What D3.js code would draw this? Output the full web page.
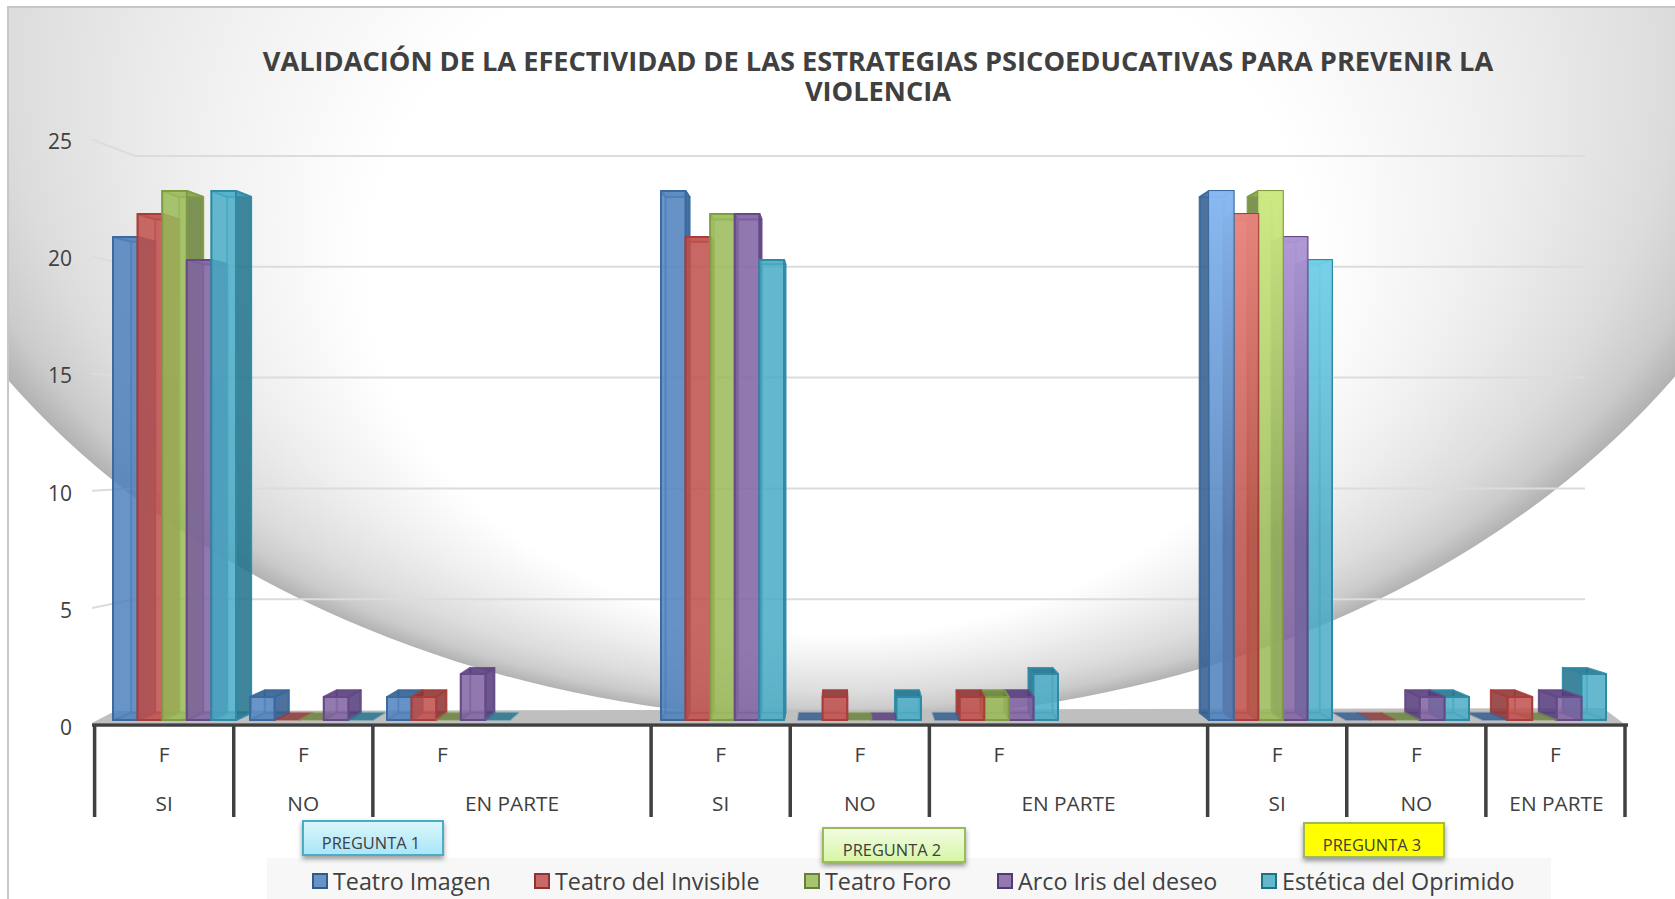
<!DOCTYPE html>
<html><head><meta charset="utf-8">
<script src="https://cdn.jsdelivr.net/npm/d3@7"></script>
<style>html,body{margin:0;padding:0;background:#fff;overflow:hidden}svg{display:block}text{font-family:"Open Sans",sans-serif;fill:#404040}</style>
</head><body><svg id="c" width="1675" height="899"></svg>
<script>
const titleLines = ["VALIDACIÓN DE LA EFECTIVIDAD DE LAS ESTRATEGIAS PSICOEDUCATIVAS PARA PREVENIR LA","VIOLENCIA"];
const slots = ["1-SI","1-NO","1-EP","1-x","2-SI","2-NO","2-EP","2-x","3-SI","3-NO","3-EP"];
const freqLabels = ["F","F","F","","F","F","F","","F","F","F"];
const answerLabels = ["SI","NO","EN PARTE","","SI","NO","EN PARTE","","SI","NO","EN PARTE"];
const seriesNames = ["Teatro Imagen","Teatro del Invisible","Teatro Foro","Arco Iris del deseo","Estética del Oprimido"];
const teatroImagen    = [21,1,1,null,23,0,0,null,23,0,0];
const teatroInvisible = [22,0,1,null,21,1,1,null,22,0,1];
const teatroForo      = [23,0,0,null,22,0,1,null,23,0,0];
const arcoIris        = [20,1,2,null,22,0,1,null,21,1,1];
const estetica        = [23,0,0,null,20,1,2,null,20,1,2];
const seriesValues = [teatroImagen,teatroInvisible,teatroForo,arcoIris,estetica];
const yTicks = [0,5,10,15,20,25];
const preguntas = ["PREGUNTA 1","PREGUNTA 2","PREGUNTA 3"];

const svg = d3.select("#c");
const defs = svg.append("defs");

// colours
const front = ["#4f81bd","#c0504d","#9bbb59","#8064a2","#4bacc6"];
const stroke = ["#3a6a9e","#a83e3b","#7f9c42","#654a86","#2f8aa6"];
const dark = ["#2f5a8c","#8a3533","#66803a","#52397a","#1f7089"];
const bright = ["#8fc0f8","#f09088","#d4f088","#bca4e4","#80dcf5"];

// background
const grad = defs.append("radialGradient").attr("id","bg").attr("gradientUnits","userSpaceOnUse")
  .attr("cx",0).attr("cy",0).attr("r",1).attr("fx",0).attr("fy",0.79)
  .attr("gradientTransform","translate(840,-50) scale(1003,770)");
[[0,"#ffffff"],[0.47,"#ffffff"],[0.66,"#eeeeee"],[0.83,"#dcdcdc"],[0.93,"#cbcbcb"],[1,"#b2b2b2"]]
  .forEach(([o,c])=>grad.append("stop").attr("offset",o).attr("stop-color",c));
defs.append("clipPath").attr("id","area").append("rect").attr("x",8).attr("y",7).attr("width",1667).attr("height",892);
svg.append("ellipse").attr("clip-path","url(#area)").attr("cx",840).attr("cy",-50).attr("rx",1003).attr("ry",770).attr("fill","url(#bg)");
svg.append("path").attr("d","M8,899V7H1675").attr("fill","none").attr("stroke","#c6c6c6").attr("stroke-width",2);

const f = defs.append("filter").attr("id","sh").attr("x","-10%").attr("y","-20%").attr("width","120%").attr("height","160%");
f.append("feDropShadow").attr("dx",0).attr("dy",3).attr("stdDeviation",2.5).attr("flood-color","#000").attr("flood-opacity",0.4);
const gp = [["g1","#dcf6fc","#a8e6f8"],["g2","#f3fce3","#d6f6a4"]];
gp.forEach(([id,a,b])=>{const g=defs.append("linearGradient").attr("id",id).attr("x1",0).attr("x2",0).attr("y1",0).attr("y2",1);
  g.append("stop").attr("offset",0).attr("stop-color",a);g.append("stop").attr("offset",1).attr("stop-color",b);});
bright.forEach((c,i)=>{
  const g=defs.append("linearGradient").attr("id","glare"+i).attr("gradientUnits","userSpaceOnUse").attr("x1",0).attr("x2",0).attr("y1",190).attr("y2",540);
  g.append("stop").attr("offset",0).attr("stop-color",c).attr("stop-opacity",0.85);
  g.append("stop").attr("offset",1).attr("stop-color",c).attr("stop-opacity",0);
});

// scales
const yFront = d3.scaleLinear().domain([0,25]).range([725,139.5]);
const yBack  = d3.scaleLinear().domain([0,25]).range([710,156]);
const yBar   = d3.scaleLinear().domain([0,25]).range([720,145]);
const xAxis  = d3.scaleBand().domain(slots).range([94.6,1625]);
const xSlot  = d3.scaleBand().domain(slots).range([113,1620]);
const xInner = d3.scaleBand().domain(seriesNames).range([0,123]);

// walls
const xL0=92, xL1=135, xR=1585;
svg.append("g").selectAll("path").data(yTicks.filter(t=>t>0)).join("path")
  .attr("d",t=>`M${xL0},${yFront(t)}L${xL1},${yBack(t)}H${xR}`)
  .attr("fill","none").attr("stroke","#dcdcdc").attr("stroke-width",2);
svg.append("path").attr("d","M92,723H1623L1603,708L115,711Z").attr("fill","#bfbfbf");

// bars
const V=[840,430], k=0.025;
const proj=([x,y])=>[x+k*(V[0]-x),y+k*(V[1]-y)];
const poly=pts=>"M"+pts.map(p=>p.join(",")).join("L")+"Z";
const bars=[];
seriesNames.forEach((n,si)=>slots.forEach((s,i)=>{
  const v=seriesValues[si][i]; if(v===null) return;
  const x0=xSlot(s)+xInner(n), x1=x0+xInner.bandwidth();
  bars.push({si,v,x0,x1,d:Math.abs((x0+x1)/2-V[0]),third:i===8});
}));
bars.sort((a,b)=>b.d-a.d);
const gb=svg.append("g");
bars.forEach(b=>{
  const yt=yBar(b.v), yb=yBar(0);
  const A=[b.x0,yt],B=[b.x1,yt],C=[b.x1,yb],D=[b.x0,yb];
  const a=proj(A),bb=proj(B),c=proj(C),d=proj(D);
  const g=gb.append("g").attr("stroke",stroke[b.si]).attr("stroke-width",2).attr("stroke-linejoin","round");
  const rightVisible=(b.x0+b.x1)/2<V[0];
  const near=rightVisible?[B,bb,c,C]:[A,a,d,D];
  const far=rightVisible?[A,a,d,D]:[B,bb,c,C];
  const face=(pts,col,op,sw)=>g.append("path").attr("d",poly(pts)).attr("fill",col).attr("fill-opacity",op).attr("stroke-opacity",sw);
  if(b.v===0){ face([A,B,bb,a],dark[b.si],0.8,0.4); return; }
  face([a,bb,c,d],front[b.si],0.25,0.45);
  face([D,C,c,d],front[b.si],0.35,0.45);
  face(far,front[b.si],0.2,0.4);
  face(near,dark[b.si],0.82,0.9);
  face([A,B,bb,a],yt>V[1]?dark[b.si]:front[b.si],yt>V[1]?0.85:0.55,0.8);
  face([A,B,C,D],front[b.si],0.82,1);
  if(b.third) g.append("path").attr("d",poly([A,B,C,D])).attr("fill",`url(#glare${b.si})`).attr("stroke","none");
});

// y labels
const yAx=svg.append("g").attr("transform","translate(72,2.5)").call(d3.axisLeft(yFront).tickValues(yTicks).tickSize(0).tickPadding(0));
yAx.select(".domain").remove();
yAx.selectAll("text").attr("font-family",null).style("font-size","21px");

// x axis
const xa=svg.append("g");
xa.append("line").attr("x1",92).attr("x2",1628).attr("y1",725).attr("y2",725).attr("stroke","#404040").attr("stroke-width",3.5);
const edges=[];
slots.forEach((s,i)=>{ if(answerLabels[i]!=="") edges.push(xAxis(s)); });
edges.push(xAxis(slots[slots.length-1])+xAxis.bandwidth());
xa.selectAll("line.t").data(edges).join("line").attr("class","t").attr("x1",d=>d).attr("x2",d=>d).attr("y1",725).attr("y2",817).attr("stroke","#404040").attr("stroke-width",3.5);
slots.forEach((s,i)=>{
  if(answerLabels[i]==="") return;
  const c=xAxis(s)+xAxis.bandwidth()/2;
  const span=answerLabels[i+1]===""?xAxis.bandwidth()/2:0;
  xa.append("text").attr("x",c).attr("y",762).attr("text-anchor","middle").style("font-size","20.8px").text(freqLabels[i]);
  xa.append("text").attr("x",c+span+(i===10?1:0)).attr("y",811).attr("text-anchor","middle").style("font-size","20.8px").text(answerLabels[i]);
});

// title
svg.append("g").selectAll("text").data(titleLines).join("text").attr("x",878).attr("y",(d,i)=>71+i*30)
  .attr("text-anchor","middle").style("font-size","27.2px").style("font-weight","700").text(d=>d);

// legend
svg.append("rect").attr("x",267).attr("y",858).attr("width",1284).attr("height",41).attr("fill","#f7f7f7");
const legendStarts=[312,534,804,997,1261];
const lg=svg.append("g").selectAll("g").data(seriesNames).join("g").attr("transform",(d,i)=>`translate(${legendStarts[i]},873)`);
lg.append("rect").attr("x",1).attr("y",1).attr("width",14).attr("height",14).attr("fill",(d,i)=>front[i]).attr("fill-opacity",0.85).attr("stroke",(d,i)=>dark[i]).attr("stroke-width",2);
lg.append("text").attr("x",21).attr("y",17).style("font-size","23.3px").text(d=>d);

// callouts
const callX=[303,823,1304], callY=[821,828,823], callW=[140,142,140], callFill=["url(#g1)","url(#g2)","#ffff00"], callStroke=["#4bacc6","#9bbb59","#9bbb59"];
const cg=svg.append("g").selectAll("g").data(preguntas).join("g");
cg.append("rect").attr("x",(d,i)=>callX[i]).attr("y",(d,i)=>callY[i]).attr("width",(d,i)=>callW[i]).attr("height",34)
  .attr("fill",(d,i)=>callFill[i]).attr("stroke",(d,i)=>callStroke[i]).attr("stroke-width",2).attr("filter","url(#sh)");
cg.append("text").attr("x",(d,i)=>callX[i]+callW[i]/2-2).attr("y",(d,i)=>callY[i]+28).attr("text-anchor","middle").style("font-size","16.4px").text(d=>d);
</script></body></html>
